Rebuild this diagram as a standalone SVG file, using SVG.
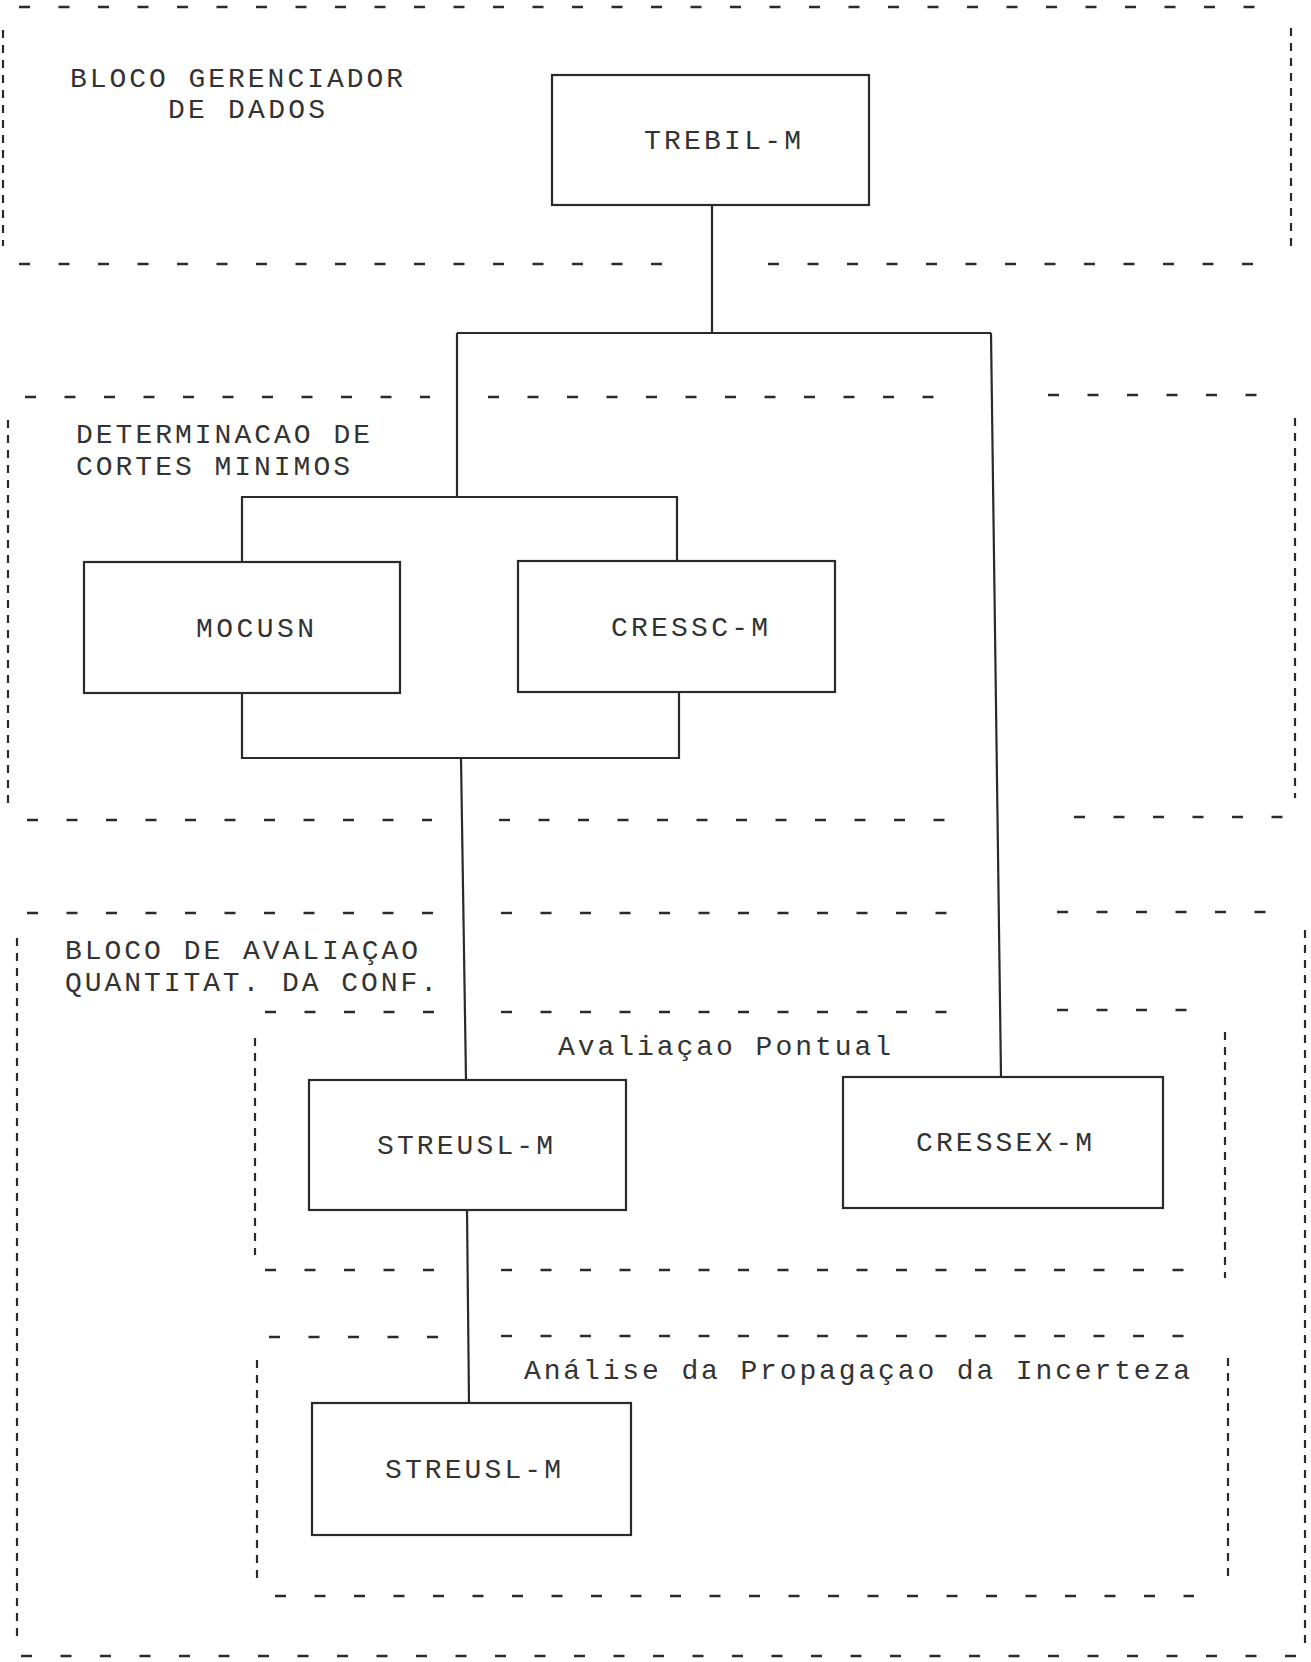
<svg xmlns="http://www.w3.org/2000/svg" width="1311" height="1662" viewBox="0 0 1311 1662">
<style>
.dh{stroke:#2a2a2a;stroke-width:2.4;stroke-dasharray:11 28.5;fill:none}
.dv{stroke:#2a2a2a;stroke-width:2.2;stroke-dasharray:8 7;fill:none}
.box{fill:none;stroke:#2a2a2a;stroke-width:2.2}
.con{fill:none;stroke:#2a2a2a;stroke-width:2.2}
.t{font-family:"Liberation Mono","DejaVu Sans Mono",monospace;font-size:28px;fill:#333}
</style>
<rect width="1311" height="1662" fill="#ffffff"/>

<g id="block-gerenciador">
<line class="dh" x1="19" y1="7" x2="1258" y2="7"/>
<line class="dv" x1="3" y1="30" x2="3" y2="246"/>
<line class="dv" x1="1291" y1="28" x2="1291" y2="247"/>
<line class="dh" x1="19" y1="264" x2="665" y2="264"/>
<line class="dh" x1="768" y1="264" x2="1260" y2="264"/>
<text class="t" x="70" y="87" textLength="333">BLOCO GERENCIADOR</text>
<text class="t" x="168" y="118" textLength="157">DE DADOS</text>
</g>

<g id="block-cortes">
<line class="dh" x1="25" y1="397" x2="430" y2="397"/>
<line class="dh" x1="488" y1="397" x2="950" y2="397"/>
<line class="dh" x1="1048" y1="395" x2="1262" y2="395"/>
<line class="dv" x1="8" y1="420" x2="8" y2="803"/>
<line class="dv" x1="1295" y1="418" x2="1295" y2="798"/>
<line class="dh" x1="27" y1="820" x2="432" y2="820"/>
<line class="dh" x1="499" y1="820" x2="955" y2="820"/>
<line class="dh" x1="1074" y1="817" x2="1290" y2="817"/>
<text class="t" x="76" y="443" textLength="294">DETERMINACAO DE</text>
<text class="t" x="76" y="475" textLength="274">CORTES MINIMOS</text>
</g>

<g id="block-avaliacao">
<line class="dh" x1="27" y1="913" x2="442" y2="913"/>
<line class="dh" x1="501" y1="913" x2="955" y2="913"/>
<line class="dh" x1="1057" y1="912" x2="1272" y2="912"/>
<line class="dv" x1="17" y1="938" x2="17" y2="1640"/>
<line class="dv" x1="1305" y1="930" x2="1305" y2="1648"/>
<line class="dh" x1="21" y1="1656" x2="1300" y2="1656"/>
<text class="t" x="65" y="959" textLength="353">BLOCO DE AVALIAÇAO</text>
<text class="t" x="65" y="991" textLength="372">QUANTITAT. DA CONF.</text>
</g>

<g id="block-pontual">
<line class="dh" x1="265" y1="1012" x2="442" y2="1012"/>
<line class="dh" x1="501" y1="1012" x2="955" y2="1012"/>
<line class="dh" x1="1057" y1="1010" x2="1192" y2="1010"/>
<line class="dv" x1="255" y1="1038" x2="255" y2="1255"/>
<line class="dv" x1="1225" y1="1032" x2="1225" y2="1278"/>
<line class="dh" x1="265" y1="1270" x2="442" y2="1270"/>
<line class="dh" x1="501" y1="1270" x2="1200" y2="1270"/>
<text class="t" x="558" y="1055" textLength="333">Avaliaçao Pontual</text>
</g>

<g id="block-incerteza">
<line class="dh" x1="269" y1="1337" x2="444" y2="1337"/>
<line class="dh" x1="501" y1="1336" x2="1192" y2="1336"/>
<line class="dv" x1="257" y1="1360" x2="257" y2="1578"/>
<line class="dv" x1="1228" y1="1358" x2="1228" y2="1577"/>
<line class="dh" x1="275" y1="1596" x2="1194" y2="1596"/>
<text class="t" x="524" y="1379" textLength="666">Análise da Propagaçao da Incerteza</text>
</g>

<g id="connectors">
<line class="con" x1="712" y1="205" x2="712" y2="333"/>
<line class="con" x1="457" y1="333" x2="991" y2="333"/>
<line class="con" x1="457" y1="333" x2="457" y2="497"/>
<line class="con" x1="991" y1="333" x2="1001" y2="1077"/>
<polyline class="con" points="242,562 242,497 677,497 677,561"/>
<polyline class="con" points="242,693 242,758 679,758 679,692"/>
<line class="con" x1="461" y1="758" x2="466" y2="1080"/>
<line class="con" x1="467" y1="1210" x2="469" y2="1403"/>
</g>

<g id="node-trebil">
<rect class="box" x="552" y="75" width="317" height="130"/>
<text class="t" x="644" y="149" textLength="157">TREBIL-M</text>
</g>
<g id="node-mocusn">
<rect class="box" x="84" y="562" width="316" height="131"/>
<text class="t" x="196" y="637" textLength="118">MOCUSN</text>
</g>
<g id="node-cressc">
<rect class="box" x="518" y="561" width="317" height="131"/>
<text class="t" x="611" y="636" textLength="157">CRESSC-M</text>
</g>
<g id="node-streusl-1">
<rect class="box" x="309" y="1080" width="317" height="130"/>
<text class="t" x="377" y="1154" textLength="176">STREUSL-M</text>
</g>
<g id="node-cressex">
<rect class="box" x="843" y="1077" width="320" height="131"/>
<text class="t" x="916" y="1151" textLength="176">CRESSEX-M</text>
</g>
<g id="node-streusl-2">
<rect class="box" x="312" y="1403" width="319" height="132"/>
<text class="t" x="385" y="1478" textLength="176">STREUSL-M</text>
</g>
</svg>
